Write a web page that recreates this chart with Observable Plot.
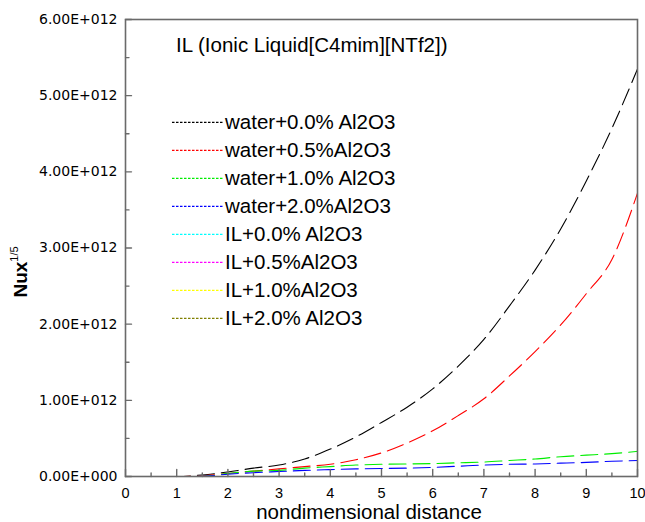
<!DOCTYPE html>
<html>
<head>
<meta charset="utf-8">
<script src="https://cdn.jsdelivr.net/npm/d3@7"></script>
<script src="https://cdn.jsdelivr.net/npm/@observablehq/plot@0.6"></script>
<style>
  html, body { margin: 0; padding: 0; background: #fff; }
  #chart svg { display: block; background: #fff; }
</style>
</head>
<body>
<div id="chart"></div>
<script>
// ---- data ----
const xs = [0, 0.5, 1, 1.5, 2, 2.5, 3, 3.5, 4, 4.5, 5, 5.5, 6, 6.5, 7, 7.5, 8, 8.5, 9, 9.5, 10];
const water00 = [0, 0, 0, 0.02e12, 0.06e12, 0.11e12, 0.15e12, 0.23e12, 0.36e12, 0.52e12, 0.71e12, 0.91e12, 1.15e12, 1.45e12, 1.80e12, 2.24e12, 2.71e12, 3.25e12, 3.88e12, 4.57e12, 5.35e12];
const water05 = [0, 0, 0, 0.01e12, 0.04e12, 0.07e12, 0.10e12, 0.13e12, 0.16e12, 0.22e12, 0.31e12, 0.44e12, 0.60e12, 0.80e12, 1.02e12, 1.32e12, 1.64e12, 1.99e12, 2.40e12, 2.85e12, 3.72e12];
const water10 = [0, 0, 0, 0.003e12, 0.04e12, 0.07e12, 0.08e12, 0.11e12, 0.13e12, 0.15e12, 0.16e12, 0.165e12, 0.17e12, 0.18e12, 0.19e12, 0.21e12, 0.23e12, 0.26e12, 0.28e12, 0.30e12, 0.33e12];
const water20 = [0, 0, 0, 0.002e12, 0.03e12, 0.05e12, 0.065e12, 0.08e12, 0.09e12, 0.10e12, 0.105e12, 0.11e12, 0.12e12, 0.135e12, 0.15e12, 0.16e12, 0.165e12, 0.175e12, 0.185e12, 0.20e12, 0.21e12];
const il00 = [0, 0, 0, 0, 0, 0, 0, 0, 0, 0, 0, 0, 0, 0, 0, 0, 0, 0, 0, 0, 0];
const il05 = [0, 0, 0, 0, 0, 0, 0, 0, 0, 0, 0, 0, 0, 0, 0, 0, 0, 0, 0, 0, 0];
const il10 = [0, 0, 0, 0, 0, 0, 0, 0, 0, 0, 0, 0, 0, 0, 0, 0, 0, 0, 0, 0, 0];
const il20 = [0, 0, 0, 0, 0, 0, 0, 0, 0, 0, 0, 0, 0, 0, 0, 0, 0, 0, 0, 0, 0];

const seriesNames = ["water+0.0% Al2O3", "water+0.5%Al2O3", "water+1.0% Al2O3", "water+2.0%Al2O3",
                     "IL+0.0% Al2O3", "IL+0.5%Al2O3", "IL+1.0%Al2O3", "IL+2.0% Al2O3"];
const seriesValues = [water00, water05, water10, water20, il00, il05, il10, il20];
const seriesColors = ["#000000", "#ff0000", "#00ee00", "#0000ff", "#00ffff", "#ff00ff", "#ffff00", "#808000"];

const xMajor = [0, 1, 2, 3, 4, 5, 6, 7, 8, 9, 10];
const xMinor = [0.5, 1.5, 2.5, 3.5, 4.5, 5.5, 6.5, 7.5, 8.5, 9.5];
const yMajor = [0, 1e12, 2e12, 3e12, 4e12, 5e12, 6e12];
const yMinor = [0.5e12, 1.5e12, 2.5e12, 3.5e12, 4.5e12, 5.5e12];

const titleText = "IL (Ionic Liquid[C4mim][NTf2])";
const xLabel = "nondimensional distance";
const yLabelMain = "Nux";
const yLabelSup = "1/5";

// ---- build ----
const table = seriesNames.flatMap((name, s) => xs.map((x, i) => ({series: name, x, y: seriesValues[s][i]})));

function sci(v) {
  if (v === 0) return "0.00E+000";
  const e = Math.floor(Math.log10(Math.abs(v)) + 1e-9);
  const m = v / Math.pow(10, e);
  return m.toFixed(2) + "E" + (e < 0 ? "-" : "+") + String(Math.abs(e)).padStart(3, "0");
}

const tickShape = {draw(context, l) { context.moveTo(0, 0); context.lineTo(0, -l); }};
const tickColor = "#6a6a6a";

const W = 645, H = 522;
const plot = Plot.plot({
  width: W,
  height: H,
  marginLeft: 125,
  marginRight: 8,
  marginTop: 19,
  marginBottom: 46,
  style: {fontFamily: "Liberation Sans, Arial, sans-serif", background: "#fff"},
  x: {domain: [0, 10]},
  y: {domain: [0, 6e12]},
  color: {domain: seriesNames, range: seriesColors},
  marks: [
    Plot.line(table, {x: "x", y: "y", z: "series", stroke: "series", strokeWidth: 1.1,
                      strokeDasharray: "17,7", curve: "monotone-x"}),
    Plot.frame({stroke: tickColor, strokeWidth: 1.6}),
    Plot.vector(xMajor, {x: d => d, y: 0, length: 7, rotate: 0, anchor: "start", shape: tickShape, stroke: tickColor, strokeWidth: 1.4}),
    Plot.vector(xMinor, {x: d => d, y: 0, length: 3.5, rotate: 0, anchor: "start", shape: tickShape, stroke: tickColor, strokeWidth: 1.4}),
    Plot.vector(yMajor, {x: 0, y: d => d, length: 6, rotate: 90, anchor: "start", shape: tickShape, stroke: tickColor, strokeWidth: 1.4}),
    Plot.vector(yMinor, {x: 0, y: d => d, length: 3.5, rotate: 90, anchor: "start", shape: tickShape, stroke: tickColor, strokeWidth: 1.4}),
    Plot.axisX({ticks: xMajor, tickSize: 0, tickPadding: 11, fontSize: 14.5, label: null, tickFormat: d => String(d)}),
    Plot.axisY({ticks: yMajor, tickSize: 0, tickPadding: 8, fontSize: 14, fontFamily: "DejaVu Sans", label: null, tickFormat: sci})
  ]
});
document.getElementById("chart").appendChild(plot);

// ---- title, legend, axis labels ----
const svg = d3.select(plot);
const font = "Liberation Sans, Arial, sans-serif";

svg.append("text")
  .attr("x", 176).attr("y", 52)
  .attr("text-anchor", "start")
  .attr("font-family", font).attr("font-size", 20.5).attr("fill", "#000")
  .text(titleText);

const leg = svg.append("g").attr("text-anchor", "start");
seriesNames.forEach((name, i) => {
  const y = 122.3 + i * 28;
  leg.append("line")
    .attr("x1", 172).attr("x2", 223).attr("y1", y).attr("y2", y)
    .attr("stroke", seriesColors[i]).attr("stroke-width", 1.2)
    .attr("stroke-dasharray", "2.5,1.5");
  leg.append("text")
    .attr("x", 225).attr("y", y + 6.5)
    .attr("text-anchor", "start")
    .attr("font-family", font).attr("font-size", 20.5).attr("fill", "#000")
    .text(name);
});

svg.append("text")
  .attr("x", 369).attr("y", 519)
  .attr("text-anchor", "middle")
  .attr("font-family", font).attr("font-size", 20.5).attr("fill", "#000")
  .text(xLabel);

const yl = svg.append("text")
  .attr("transform", "translate(27,272) rotate(-90)")
  .attr("text-anchor", "middle")
  .attr("font-family", font).attr("font-weight", "bold").attr("font-size", 19).attr("fill", "#000");
yl.append("tspan").text(yLabelMain);
yl.append("tspan").attr("font-size", 11).attr("font-weight", "normal").attr("dy", -9).text(yLabelSup);
</script>
</body>
</html>
